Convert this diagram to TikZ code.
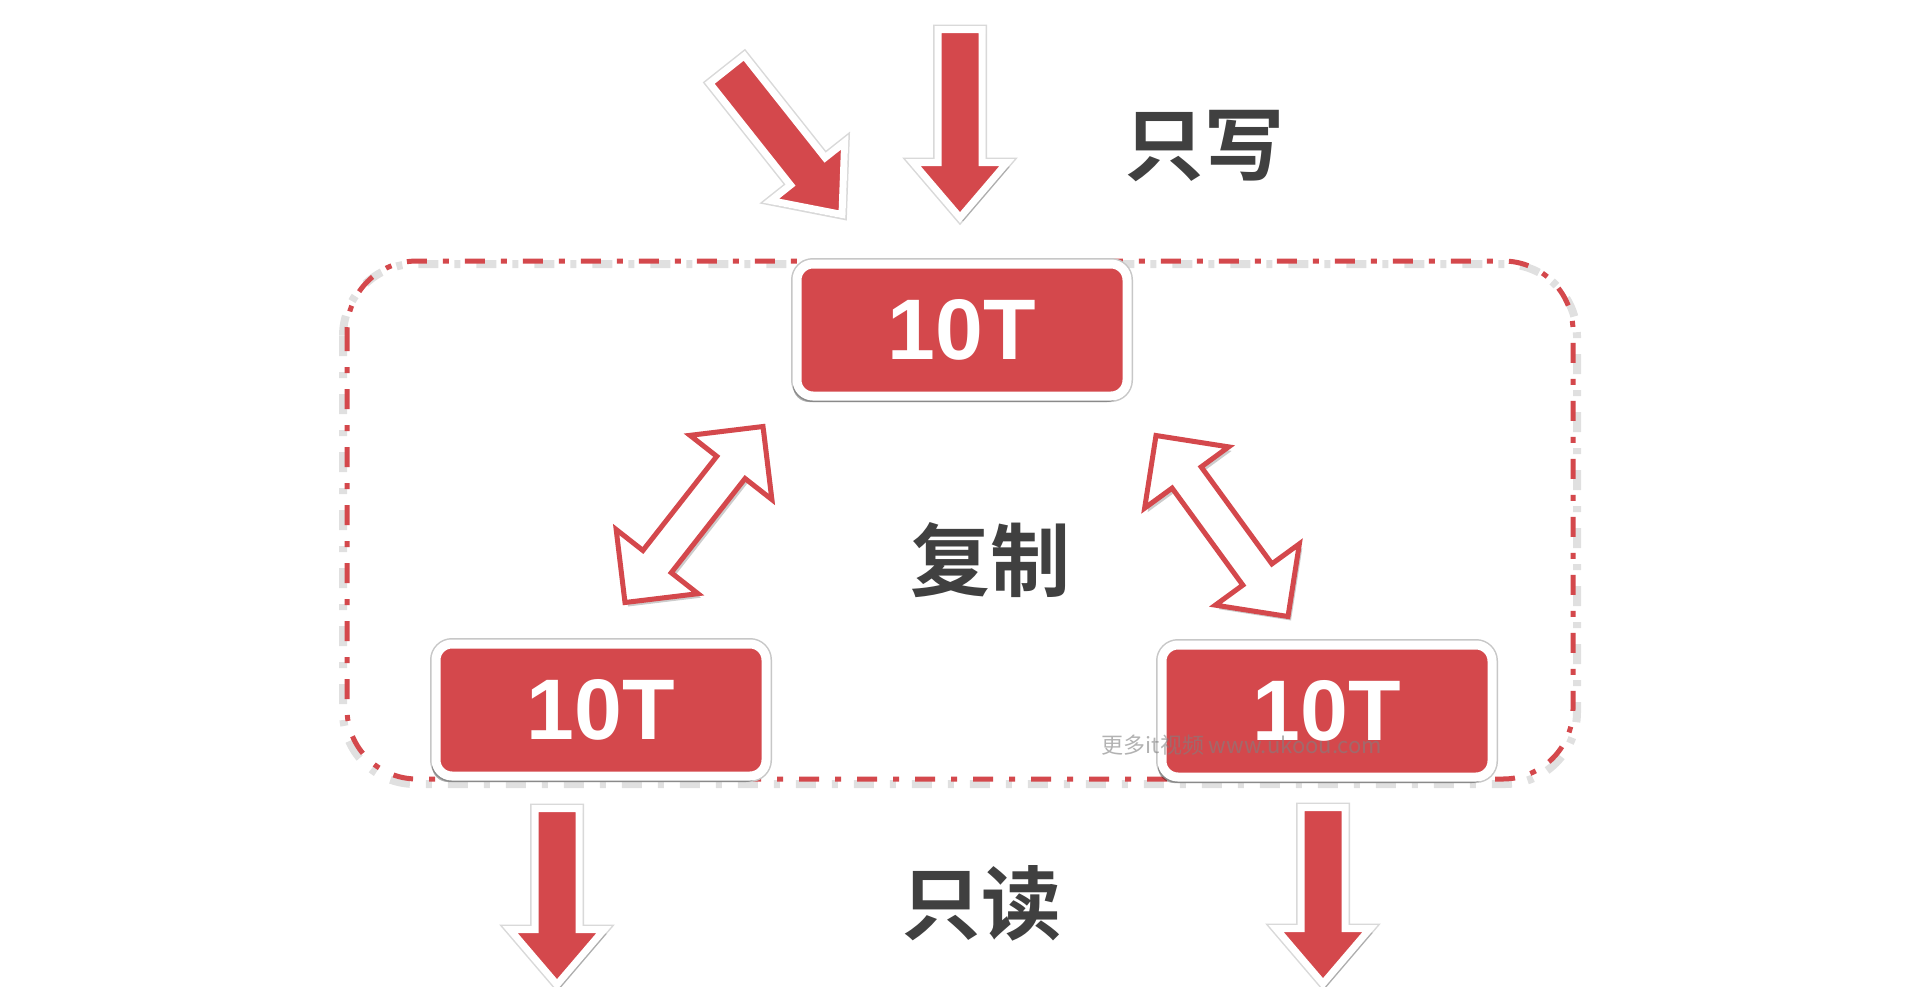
\documentclass[tikz,border=0pt]{standalone}
\usepackage{fontspec}
\usepackage{tikz}
\usetikzlibrary{calc,shadows}
\setmainfont{Liberation Sans}
\newfontfamily\cjkb{Noto Sans CJK SC Bold}
\newfontfamily\cjk{Noto Sans CJK SC}
\definecolor{rojo}{RGB}{212,72,76}
\definecolor{gristexto}{RGB}{64,64,64}

% flecha simple: estilo, cola, punta, medio ancho, medio ancho punta, largo punta
\newcommand\flecha[6][]{%
  \coordinate (fh) at ($(#3)!#6!(#2)$);
  \path[#1] ($(#2)!#4!90:(#3)$) -- ($(fh)!#4!90:(#3)$) -- ($(fh)!#5!90:(#3)$) -- (#3)
    -- ($(fh)!#5!-90:(#3)$) -- ($(fh)!#4!-90:(#3)$) -- ($(#2)!#4!-90:(#3)$) -- cycle;
}
% flecha doble
\newcommand\flechadoble[6][]{%
  \coordinate (fa) at ($(#2)!#6!(#3)$);
  \coordinate (fb) at ($(#3)!#6!(#2)$);
  \path[#1] (#2) -- ($(fa)!#5!90:(#3)$) -- ($(fa)!#4!90:(#3)$) -- ($(fb)!#4!-90:(#2)$)
    -- ($(fb)!#5!-90:(#2)$) -- (#3) -- ($(fb)!#5!90:(#2)$) -- ($(fb)!#4!90:(#2)$)
    -- ($(fa)!#4!-90:(#3)$) -- ($(fa)!#5!-90:(#3)$) -- cycle;
}

\tikzset{
  disco/.style={fill=rojo, draw=white, line width=9pt, rounded corners=16pt,
    minimum width=330pt, minimum height=132pt, text=white, inner sep=0pt,
    font=\fontsize{86}{86}\selectfont\bfseries,
    preaction={draw=black!22, line width=12pt},
    drop shadow={shadow xshift=-4pt, shadow yshift=-6pt, opacity=.3, fill=black}},
  flecharoja/.style={fill=rojo, draw=white, line width=7pt, line join=miter,
    preaction={draw=black!15, line width=10pt},
    drop shadow={shadow xshift=3pt, shadow yshift=-4pt, opacity=.2, fill=black}},
  flechacopia/.style={fill=white, draw=rojo, line width=5pt, line join=miter,
    drop shadow={shadow xshift=3pt, shadow yshift=-4pt, opacity=.2, fill=black}},
  rotulo/.style={text=gristexto, inner sep=0pt, font=\cjkb\fontsize{80}{80}\selectfont},
}

\begin{document}
\begin{tikzpicture}[x=1pt,y=-1pt]
  \useasboundingbox[fill=white] (0,0) rectangle (1920,986);

  % Grupo de replicas
  \draw[black, opacity=.12, line width=8pt, rounded corners=72pt,
    dash pattern=on 20pt off 16pt on 6pt off 16pt] (343,264) rectangle (1577,784);
  \draw[rojo, line width=5pt, rounded corners=70pt,
    dash pattern=on 20pt off 16pt on 6pt off 16pt] (347,261) rectangle (1573,779);

  % Nodos
  \node[disco] (top) at (962,330) {10T};
  \node[disco] (left) at (601,710) {10T};
  \node[disco] (right) at (1327,711) {10T};

  % Escritura
  \coordinate (e1) at ($(top.north)+(-235,-190)$);
  \coordinate (t1) at ($(top.north)+(-120,-45)$);
  \coordinate (e2) at ($(top.north)+(-2,-230)$);
  \coordinate (t2) at ($(top.north)+(-2,-42)$);
  \flecha[flecharoja]{e1}{t1}{22pt}{47pt}{55pt}
  \flecha[flecharoja]{e2}{t2}{22pt}{47pt}{55pt}

  % Replicacion
  \coordinate (c1) at ($(left.north)+(24,-37)$);
  \coordinate (c2) at ($(top.south)+(-199,26)$);
  \coordinate (c3) at ($(top.south)+(194,35)$);
  \coordinate (c4) at ($(right.north)+(-39,-24)$);
  \flechadoble[flechacopia]{c1}{c2}{18pt}{52pt}{52pt}
  \flechadoble[flechacopia]{c3}{c4}{18pt}{52pt}{52pt}

  % Lectura
  \coordinate (l1) at ($(left.south)+(-44,28)$);
  \coordinate (l2) at ($(left.south)+(-44,204)$);
  \coordinate (l3) at ($(right.south)+(-4,26)$);
  \coordinate (l4) at ($(right.south)+(-4,202)$);
  \flecha[flecharoja]{l1}{l2}{22pt}{47pt}{55pt}
  \flecha[flecharoja]{l3}{l4}{22pt}{47pt}{55pt}

  % Rotulos
  \node[rotulo] (escribir) at (1204,146) {只写};
  \node[rotulo] (copia) at (990,560) {复制};
  \node[rotulo] (leer) at (981,903) {只读};

  % Marca de agua
  \node[text=gray, opacity=.6, font=\cjk\fontsize{22}{22}\selectfont] (marca) at (1242,745) {更多it视频 www.ukoou.com};
\end{tikzpicture}
\end{document}
